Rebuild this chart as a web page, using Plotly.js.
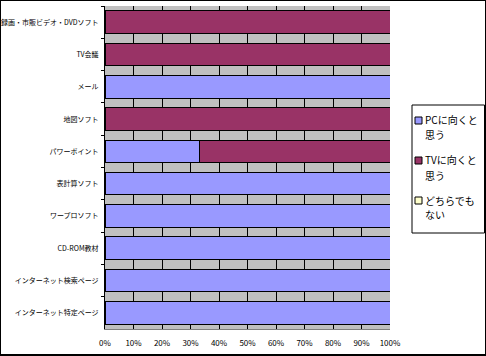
<!DOCTYPE html>
<html><head><meta charset="utf-8">
<script src="https://cdn.plot.ly/plotly-3.0.1.min.js"></script>
<style>
html,body{margin:0;padding:0;background:#fff;}
#wrap{position:relative;width:486px;height:356px;}
#frame{position:absolute;left:0;top:0;width:486px;height:356px;box-sizing:border-box;border:1px solid #000;border-bottom-width:2px;pointer-events:none;}
</style></head>
<body>
<div id="wrap"><div id="chart" style="width:486px;height:356px;"></div><div id="frame"></div></div>
<script>
const categories = ["録画・市販ビデオ・DVDソフト","TV会議","メール","地図ソフト","パワーポイント","表計算ソフト","ワープロソフト","CD-ROM教材","インターネット検索ページ","インターネット特定ページ"];
const seriesNames = ["PCに向くと<br>思う","TVに向くと<br>思う","どちらでも<br>ない"];
const pcValues = [0,0,100,0,33,100,100,100,100,100];
const tvValues = [100,100,0,100,67,0,0,0,0,0];
const neitherValues = [0,0,0,0,0,0,0,0,0,0];
const xTicks = [0,10,20,30,40,50,60,70,80,90,100];
const colors = ["#9999ff","#993366","#ffffcc"];

const font = "'Noto Sans CJK JP', 'DejaVu Sans', sans-serif";
const W=486, H=356, ML=105, MR=96, MT=6, MB=27;
const PW=W-ML-MR, PH=H-MT-MB;
const px=x=>(x-ML)/PW, py=y=>(H-MB-y)/PH;

const allVals = [pcValues, tvValues, neitherValues];
const traces = allVals.map((v,i)=>({
  type:"bar", orientation:"h", name:seriesNames[i].replace("<br>",""),
  y:categories, x:v,
  marker:{color:colors[i], line:{color:"#000", width:1}},
  hoverinfo:"x+y"
}));

// legend built from series names and colours
const shapes = [{type:"rect", xref:"paper", yref:"paper", x0:px(412), x1:px(484.5), y0:py(105), y1:py(233),
  line:{color:"#000", width:1}, fillcolor:"#fff", layer:"above"}];
const annotations = [];
seriesNames.forEach((n,i)=>{
  const top = 117 + i*40;
  shapes.push({type:"rect", xref:"paper", yref:"paper", x0:px(415), x1:px(422), y0:py(top), y1:py(top+7),
    line:{color:"#000", width:1}, fillcolor:colors[i], layer:"above"});
  n.split("<br>").forEach((line,j)=>{
    annotations.push({xref:"paper", yref:"paper", x:px(423), y:py(top+3+j*15), xanchor:"left", yanchor:"middle",
      text:line, showarrow:false, align:"left", font:{family:font, size:10, color:"#000"}});
  });
});

Plotly.newPlot("chart", traces, {
  width:W, height:H,
  margin:{l:ML, r:MR, t:MT, b:MB, autoexpand:false},
  barmode:"stack", bargap:0.3,
  plot_bgcolor:"#c0c0c0", paper_bgcolor:"#fff",
  font:{family:font, size:8, color:"#000"},
  showlegend:false,
  shapes:shapes, annotations:annotations,
  xaxis:{range:[0,100], tickvals:xTicks, ticktext:xTicks.map(t=>t+"%"),
    showgrid:true, gridcolor:"#000", gridwidth:1, zeroline:false,
    showline:true, linecolor:"#808080", ticks:"", tickfont:{size:8, family:font},
    ticklabelstandoff:6, fixedrange:true},
  yaxis:{type:"category", autorange:"reversed", categoryorder:"array", categoryarray:categories,
    showgrid:false, showline:true, linecolor:"#000", ticks:"outside", ticklen:3, tickson:"boundaries",
    tickcolor:"#000", tickfont:{size:7, family:font}, ticklabelstandoff:4, fixedrange:true}
}, {displayModeBar:false, staticPlot:true});
</script>
</body></html>
